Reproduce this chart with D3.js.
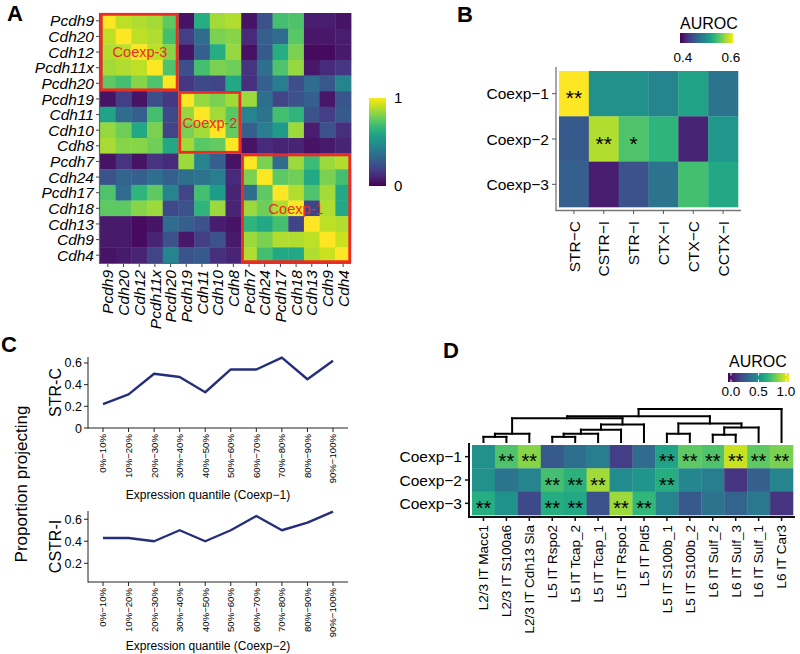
<!DOCTYPE html>
<html><head><meta charset="utf-8">
<script src="https://cdn.jsdelivr.net/npm/d3@7"></script>
<style>body{margin:0;background:#fff}svg{font-family:Arial,"Liberation Sans",sans-serif}</style>
</head><body><svg id="c" width="800" height="654"></svg>
<script>
// ---------- DATA ----------
const genesA=["Pcdh9","Cdh20","Cdh12","Pcdh11x","Pcdh20","Pcdh19","Cdh11","Cdh10","Cdh8","Pcdh7","Cdh24","Pcdh17","Cdh18","Cdh13","Cdh9","Cdh4"];
const corrA=[
[1.00,0.90,0.88,0.86,0.75,0.05,0.62,0.86,0.88,0.05,0.25,0.70,0.72,0.08,0.08,0.05],
[0.90,1.00,0.90,0.88,0.70,0.18,0.35,0.80,0.82,0.12,0.30,0.35,0.74,0.06,0.06,0.08],
[0.88,0.90,1.00,0.90,0.82,0.05,0.30,0.62,0.84,0.04,0.28,0.62,0.80,0.03,0.03,0.07],
[0.86,0.88,0.90,1.00,0.72,0.24,0.70,0.80,0.78,0.15,0.36,0.72,0.84,0.06,0.12,0.16],
[0.75,0.70,0.82,0.72,1.00,0.16,0.22,0.20,0.60,0.14,0.30,0.42,0.24,0.35,0.27,0.45],
[0.05,0.18,0.05,0.24,0.16,1.00,0.84,0.80,0.86,0.85,0.36,0.20,0.25,0.30,0.06,0.26],
[0.58,0.35,0.30,0.70,0.22,0.84,1.00,0.86,0.74,0.45,0.38,0.70,0.65,0.25,0.18,0.28],
[0.84,0.78,0.60,0.80,0.20,0.80,0.86,1.00,0.76,0.30,0.42,0.55,0.85,0.08,0.25,0.14],
[0.87,0.82,0.82,0.78,0.60,0.86,0.74,0.76,1.00,0.05,0.12,0.10,0.10,0.05,0.07,0.10],
[0.05,0.15,0.05,0.15,0.12,0.85,0.45,0.30,0.05,1.00,0.80,0.35,0.85,0.68,0.85,0.88],
[0.25,0.32,0.30,0.36,0.30,0.36,0.38,0.42,0.12,0.80,1.00,0.75,0.78,0.60,0.80,0.70],
[0.72,0.35,0.65,0.75,0.45,0.20,0.70,0.55,0.10,0.35,0.75,1.00,0.88,0.72,0.86,0.60],
[0.75,0.75,0.82,0.85,0.22,0.25,0.65,0.85,0.10,0.85,0.78,0.88,1.00,0.20,0.88,0.60],
[0.07,0.07,0.03,0.05,0.35,0.30,0.25,0.08,0.05,0.65,0.60,0.70,0.20,1.00,0.90,0.88],
[0.07,0.07,0.03,0.10,0.25,0.06,0.18,0.25,0.07,0.85,0.80,0.88,0.88,0.90,1.00,0.92],
[0.05,0.07,0.10,0.20,0.45,0.26,0.28,0.14,0.10,0.88,0.70,0.60,0.60,0.88,0.92,1.00]];
const blockNames=["Coexp-3","Coexp-2","Coexp-1"];
const blockFirst=["Pcdh9","Pcdh19","Pcdh7"];
const blockLast=["Pcdh20","Cdh8","Cdh4"];

const rowsB=["Coexp−1","Coexp−2","Coexp−3"];
const colsB=["STR−C","CSTR−I","STR−I","CTX−I","CTX−C","CCTX−I"];
const aurocB=[[0.600,0.500,0.500,0.490,0.516,0.476],
              [0.456,0.576,0.544,0.530,0.420,0.506],
              [0.460,0.416,0.450,0.476,0.540,0.520]];
const starsB=[["**","","","","",""],["","**","*","","",""],["","","","","",""]];
const legendB=[0.4,0.6];

const quantiles=["0%−10%","10%−20%","20%−30%","30%−40%","40%−50%","50%−60%","60%−70%","70%−80%","80%−90%","90%−100%"];
const strC=[0.22,0.31,0.50,0.47,0.33,0.54,0.54,0.65,0.45,0.62];
const cstrI=[0.43,0.43,0.40,0.50,0.40,0.50,0.63,0.50,0.57,0.67];
const ticksTop=[0,0.2,0.4,0.6];
const ticksBottom=[0.2,0.4,0.6];

const rowsD=["Coexp−1","Coexp−2","Coexp−3"];
const colsD=["L2/3 IT Macc1","L2/3 IT S100a6","L2/3 IT Cdh13 Sla","L5 IT Rspo2","L5 IT Tcap_2","L5 IT Tcap_1","L5 IT Rspo1","L5 IT Pld5","L5 IT S100b_1","L5 IT S100b_2","L6 IT Sulf_2","L6 IT Sulf_3","L6 IT Sulf_1","L6 IT Car3"];
const aurocD=[
[0.50,0.72,0.82,0.28,0.36,0.42,0.18,0.35,0.58,0.75,0.72,0.92,0.75,0.80],
[0.50,0.38,0.45,0.70,0.64,0.86,0.48,0.52,0.62,0.46,0.42,0.15,0.30,0.45],
[0.62,0.50,0.22,0.62,0.60,0.25,0.85,0.66,0.45,0.28,0.38,0.32,0.40,0.15]];
const starsD=[
["","**","**","","","","","","**","**","**","**","**","**"],
["","","","**","**","**","","","**","","","","",""],
["**","","","**","**","","**","**","","","","","",""]];
const legendD=[0,0.5,1];
// dendrogram: merge heights (relative)
const dendroD={h:1.0,children:[
  {h:0.78,children:[
    {h:0.72,children:[
      {h:0.25,children:[{h:0.156,children:["L2/3 IT Macc1","L2/3 IT S100a6"]},"L2/3 IT Cdh13 Sla"]},
      {h:0.53,children:[{h:0.375,children:[{h:0.25,children:[{h:0.156,children:["L5 IT Rspo2","L5 IT Tcap_2"]},"L5 IT Tcap_1"]},"L5 IT Rspo1"]},"L5 IT Pld5"]}
    ]},
    {h:0.56,children:[
      {h:0.25,children:["L5 IT S100b_1","L5 IT S100b_2"]},
      {h:0.44,children:[{h:0.22,children:["L6 IT Sulf_2","L6 IT Sulf_3"]},"L6 IT Sulf_1"]}
    ]}
  ]},
  "L6 IT Car3"]};

// ---------- DRAW ----------
const svg=d3.select("#c");
const vir=d3.interpolateViridis;
const defs=svg.append("defs");
function gradient(id,vertical){
  const g=defs.append("linearGradient").attr("id",id);
  if(vertical) g.attr("x1",0).attr("y1",1).attr("x2",0).attr("y2",0);
  d3.range(0,1.0001,0.05).forEach(t=>g.append("stop").attr("offset",t).attr("stop-color",vir(t)));
}
gradient("gv",true); gradient("gh",false);

function panelLabel(t,x,y){svg.append("text").attr("x",x).attr("y",y).attr("font-size",22).attr("font-weight","bold").text(t);}
panelLabel("A",7,21); panelLabel("B",457,22); panelLabel("C",1,352); panelLabel("D",443,358);

// ===== Panel A =====
{
const x=d3.scaleBand().domain(genesA).range([100,351]);
const y=d3.scaleBand().domain(genesA).range([13,263]);
const col=d3.scaleSequential(vir).domain([0,1]);
const g=svg.append("g");
genesA.forEach((r,i)=>genesA.forEach((c,j)=>{
  g.append("rect").attr("x",x(c)).attr("y",y(r)).attr("width",x.bandwidth()+0.4).attr("height",y.bandwidth()+0.4)
   .attr("fill",col(corrA[i][j]));
}));
blockNames.forEach((b,k)=>{
  const x0=x(blockFirst[k]),x1=x(blockLast[k])+x.bandwidth();
  const y0=y(blockFirst[k]),y1=y(blockLast[k])+y.bandwidth();
  g.append("rect").attr("x",x0+1.3).attr("y",y0+1.3).attr("width",x1-x0-2.6).attr("height",y1-y0-2.6)
   .attr("fill","none").attr("stroke","#ec2b24").attr("stroke-width",2.8);
});
[[140,y("Cdh12")+y.bandwidth()/2],[210,y("Cdh11")+y.bandwidth()],[296,y("Cdh18")+y.bandwidth()/2]].forEach((p,k)=>{
  g.append("text").attr("x",p[0]).attr("y",p[1]).attr("dy","0.36em").attr("text-anchor","middle")
   .attr("font-size",14.5).attr("fill","#ec2b24").text(blockNames[k]);
});
// axes
g.append("line").attr("x1",99.5).attr("x2",99.5).attr("y1",13).attr("y2",264).attr("stroke","#666").attr("stroke-width",1.2);
g.append("line").attr("x1",99.5).attr("x2",351).attr("y1",263.5).attr("y2",263.5).attr("stroke","#666").attr("stroke-width",1.2);
genesA.forEach(r=>{
  const cy=y(r)+y.bandwidth()/2;
  g.append("line").attr("x1",96).attr("x2",99.5).attr("y1",cy).attr("y2",cy).attr("stroke","#444");
  g.append("text").attr("x",94).attr("y",cy).attr("dy","0.36em").attr("text-anchor","end")
   .attr("font-size",15.5).attr("font-style","italic").text(r);
  const cx=x(r)+x.bandwidth()/2;
  g.append("line").attr("x1",cx).attr("x2",cx).attr("y1",263.5).attr("y2",267).attr("stroke","#444");
  g.append("text").attr("transform",`translate(${cx},270) rotate(-90)`).attr("dy","0.36em").attr("text-anchor","end")
   .attr("font-size",15.5).attr("font-style","italic").text(r);
});
// colorbar
const cb=d3.scaleLinear().domain([0,1]).range([186,98]);
g.append("rect").attr("x",369).attr("y",98).attr("width",17).attr("height",88).attr("fill","url(#gv)");
[0,1].forEach(v=>g.append("text").attr("x",394).attr("y",cb(v)).attr("dy","0.36em").attr("font-size",15).text(v));
}

// ===== Panel B =====
{
const x=d3.scaleBand().domain(colsB).range([559,738]);
const y=d3.scaleBand().domain(rowsB).range([71,207]);
const col=d3.scaleSequential(vir).domain([0.4,0.6]).clamp(true);
const g=svg.append("g");
rowsB.forEach((r,i)=>colsB.forEach((c,j)=>{
  g.append("rect").attr("x",x(c)).attr("y",y(r)).attr("width",x.bandwidth()+0.3).attr("height",y.bandwidth()+0.3).attr("fill",col(aurocB[i][j]));
  if(starsB[i][j]) g.append("text").attr("x",x(c)+x.bandwidth()/2).attr("y",y(r)+y.bandwidth()/2+11.5)
     .attr("text-anchor","middle").attr("font-size",21).text(starsB[i][j]);
}));
g.append("line").attr("x1",556).attr("x2",556).attr("y1",67).attr("y2",211).attr("stroke","#777").attr("stroke-width",1.3);
g.append("line").attr("x1",555.5).attr("x2",741).attr("y1",210.5).attr("y2",210.5).attr("stroke","#777").attr("stroke-width",1.3);
rowsB.forEach(r=>{
  const cy=y(r)+y.bandwidth()/2;
  g.append("line").attr("x1",552).attr("x2",556).attr("y1",cy).attr("y2",cy).attr("stroke","#555");
  g.append("text").attr("x",549).attr("y",cy).attr("dy","0.36em").attr("text-anchor","end").attr("font-size",15.5).text(r);
});
colsB.forEach(c=>{
  const cx=x(c)+x.bandwidth()/2;
  g.append("line").attr("x1",cx).attr("x2",cx).attr("y1",210.5).attr("y2",214).attr("stroke","#555");
  g.append("text").attr("transform",`translate(${cx},221) rotate(-90)`).attr("dy","0.36em").attr("text-anchor","end").attr("font-size",15.5).text(c);
});
const lx=d3.scaleLinear().domain([0.4,0.6]).range([683,731]);
g.append("text").attr("x",680).attr("y",29).attr("font-size",16).text("AUROC");
g.append("rect").attr("x",680).attr("y",33).attr("width",53).attr("height",10).attr("fill","url(#gh)");
legendB.forEach(v=>g.append("text").attr("x",lx(v)).attr("y",62).attr("text-anchor","middle").attr("font-size",13.5).text(v.toFixed(1)));
}

// ===== Panel C =====
function linePanel(vals,ticks,yDom,yTop,yBot,yTitle,xTitle,xTitleY){
  const g=svg.append("g");
  const x=d3.scalePoint().domain(quantiles).range([103,333]);
  const y=d3.scaleLinear().domain(yDom).range([yBot,yTop]);
  g.append("line").attr("x1",88).attr("x2",88).attr("y1",yTop).attr("y2",yBot+0.5).attr("stroke","#222");
  g.append("line").attr("x1",88).attr("x2",348).attr("y1",yBot).attr("y2",yBot).attr("stroke","#222");
  ticks.forEach(t=>{
    g.append("line").attr("x1",84).attr("x2",88).attr("y1",y(t)).attr("y2",y(t)).attr("stroke","#222");
    g.append("text").attr("x",82).attr("y",y(t)).attr("dy","0.36em").attr("text-anchor","end").attr("font-size",12.5).text(t===0?"0":t.toFixed(1));
  });
  quantiles.forEach(q=>{
    g.append("line").attr("x1",x(q)).attr("x2",x(q)).attr("y1",yBot).attr("y2",yBot+4).attr("stroke","#222");
    g.append("text").attr("transform",`translate(${x(q)},${yBot+6}) rotate(-90)`).attr("dy","0.36em").attr("text-anchor","end").attr("font-size",9.6).text(q);
  });
  g.append("path").datum(vals).attr("fill","none").attr("stroke","#262e7c").attr("stroke-width",2.4).attr("stroke-linejoin","round")
   .attr("d",d3.line().x((d,i)=>x(quantiles[i])).y(d=>y(d)));
  g.append("text").attr("transform",`translate(61,${(yTop+yBot)/2}) rotate(-90)`).attr("text-anchor","middle").attr("font-size",16).text(yTitle);
  g.append("text").attr("x",208).attr("y",xTitleY).attr("text-anchor","middle").attr("font-size",12).text(xTitle);
}
linePanel(strC,ticksTop,[0,0.655],357,428,"STR-C","Expression quantile (Coexp−1)",499);
linePanel(cstrI,ticksBottom,[0.03,0.675],511,582,"CSTR-I","Expression quantile (Coexp−2)",650);
svg.append("text").attr("transform","translate(27,484) rotate(-90)").attr("text-anchor","middle").attr("font-size",17).text("Proportion projecting");

// ===== Panel D =====
{
const x=d3.scaleBand().domain(colsD).range([472,793]);
const y=d3.scaleBand().domain(rowsD).range([445,515]);
const col=d3.scaleSequential(vir).domain([0,1]);
const g=svg.append("g");
rowsD.forEach((r,i)=>colsD.forEach((c,j)=>{
  g.append("rect").attr("x",x(c)).attr("y",y(r)).attr("width",x.bandwidth()+0.3).attr("height",y.bandwidth()+0.3).attr("fill",col(aurocD[i][j]));
  if(starsD[i][j]) g.append("text").attr("x",x(c)+x.bandwidth()/2).attr("y",y(r)+y.bandwidth()/2+11.5)
     .attr("text-anchor","middle").attr("font-size",20).text(starsD[i][j]);
}));
g.append("line").attr("x1",469).attr("x2",469).attr("y1",443).attr("y2",518).attr("stroke","#111").attr("stroke-width",2);
g.append("line").attr("x1",468).attr("x2",795).attr("y1",517).attr("y2",517).attr("stroke","#111").attr("stroke-width",2);
rowsD.forEach(r=>{
  const cy=y(r)+y.bandwidth()/2;
  g.append("line").attr("x1",465).attr("x2",469).attr("y1",cy).attr("y2",cy).attr("stroke","#111").attr("stroke-width",1.5);
  g.append("text").attr("x",462).attr("y",cy).attr("dy","0.36em").attr("text-anchor","end").attr("font-size",15.5).text(r);
});
colsD.forEach(c=>{
  const cx=x(c)+x.bandwidth()/2;
  g.append("line").attr("x1",cx).attr("x2",cx).attr("y1",517).attr("y2",521).attr("stroke","#111").attr("stroke-width",1.5);
  g.append("text").attr("transform",`translate(${cx},525) rotate(-90)`).attr("dy","0.36em").attr("text-anchor","end").attr("font-size",13.5).text(c);
});
// dendrogram
const hy=d3.scaleLinear().domain([0,1]).range([442,409]);
function layout(n){
  if(typeof n==="string") return {x:x(n)+x.bandwidth()/2,h:0};
  const kids=n.children.map(layout);
  const xs=kids.map(k=>k.x);
  g.append("line").attr("x1",d3.min(xs)).attr("x2",d3.max(xs)).attr("y1",hy(n.h)).attr("y2",hy(n.h)).attr("stroke","#000").attr("stroke-width",2).attr("stroke-linecap","square");
  kids.forEach(k=>g.append("line").attr("x1",k.x).attr("x2",k.x).attr("y1",hy(n.h)).attr("y2",hy(k.h)).attr("stroke","#000").attr("stroke-width",2).attr("stroke-linecap","square"));
  return {x:d3.mean(xs),h:n.h};
}
layout(dendroD);
// legend
const lx=d3.scaleLinear().domain([0,1]).range([731,786]);
g.append("text").attr("x",729).attr("y",367).attr("font-size",16).text("AUROC");
g.append("rect").attr("x",728).attr("y",373).attr("width",61).attr("height",9).attr("fill","url(#gh)");
legendD.forEach(v=>{
  g.append("line").attr("x1",lx(v)).attr("x2",lx(v)).attr("y1",379.5).attr("y2",382).attr("stroke","#fff");
  g.append("line").attr("x1",lx(v)).attr("x2",lx(v)).attr("y1",373).attr("y2",375.5).attr("stroke","#fff");
  g.append("text").attr("x",lx(v)).attr("y",396).attr("text-anchor","middle").attr("font-size",13.5).text(v.toFixed(1));
});
}
</script></body></html>
